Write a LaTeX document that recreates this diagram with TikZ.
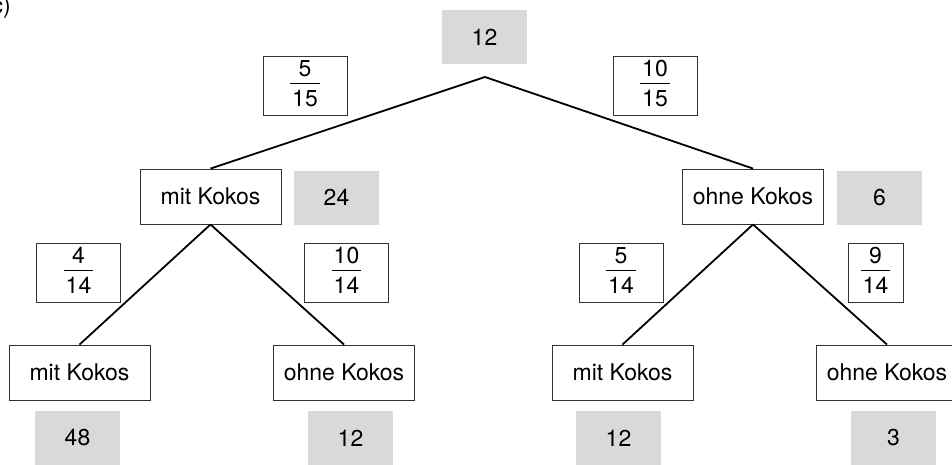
\documentclass[tikz,border=0pt]{standalone}
\usepackage{fontspec}
\setmainfont{TeX Gyre Heros}
\newcommand{\bruch}[2]{{\setlength{\arrayrulewidth}{1pt}%
  \begin{tabular}{@{\hspace{2pt}}c@{\hspace{2pt}}}#1\\[-2pt]\hline\rule{0pt}{23pt}#2\end{tabular}}}
\begin{document}
\begin{tikzpicture}[x=1pt,y=-1pt,
  font=\fontsize{23}{28}\selectfont,
  ast/.style={draw=black!80, line width=0.9pt, minimum width=141pt, minimum height=55pt, inner sep=0pt},
  anteil/.style={draw=black!80, line width=0.9pt, minimum width=84pt, minimum height=54pt, inner sep=0pt},
  anzahl/.style={fill=black!15, minimum width=85pt, minimum height=54pt, inner sep=0pt},
  zweig/.style={line width=1.8pt}]
\useasboundingbox (0,0) rectangle (952,464);

% task letter, cut at the margin
\node[anchor=base east, inner sep=0pt] (teil) at (11,13) {c)};

% first step
\node[anzahl] (start) at (484.5,37) {12};
\coordinate (wurzel) at (485,77);
\node[anteil] (p1) at (305,86) {\bruch{5}{15}};
\node[anteil] (p2) at (655,86) {\bruch{10}{15}};
\node[ast] (mk) at (210.5,196.5) {mit Kokos};
\node[anzahl] (n1) at (336.5,197.5) {24};
\node[ast] (ok) at (753,196.5) {ohne Kokos};
\node[anzahl] (n2) at (879.5,197.5) {6};

% second step
\node[anteil, minimum height=56pt] (p3) at (78.5,273) {\bruch{4}{14}};
\node[anteil, minimum height=56pt] (p4) at (346.5,273) {\bruch{10}{14}};
\node[anteil, minimum height=56pt] (p5) at (621,273) {\bruch{5}{14}};
\node[anteil, minimum height=56pt, minimum width=55pt] (p6) at (875.5,273) {\bruch{9}{14}};
\node[ast] (mkmk) at (79.5,372.5) {mit Kokos};
\node[ast] (mkok) at (344,372.5) {ohne Kokos};
\node[ast] (okmk) at (622.5,372.5) {mit Kokos};
\node[ast] (okok) at (887,372.5) {ohne Kokos};
\node[anzahl] (n3) at (77.5,438) {48};
\node[anzahl] (n4) at (350.5,438) {12};
\node[anzahl] (n5) at (618.5,438) {12};
\node[anzahl] (n6) at (893.5,438) {3};

% branches
\draw[zweig] (wurzel) -- (mk.north);
\draw[zweig] (wurzel) -- (ok.north);
\draw[zweig] (mk.south) -- (mkmk.north);
\draw[zweig] (mk.south) -- (mkok.north);
\draw[zweig] (ok.south) -- (okmk.north);
\draw[zweig] (ok.south) -- (okok.north);
\end{tikzpicture}
\end{document}
